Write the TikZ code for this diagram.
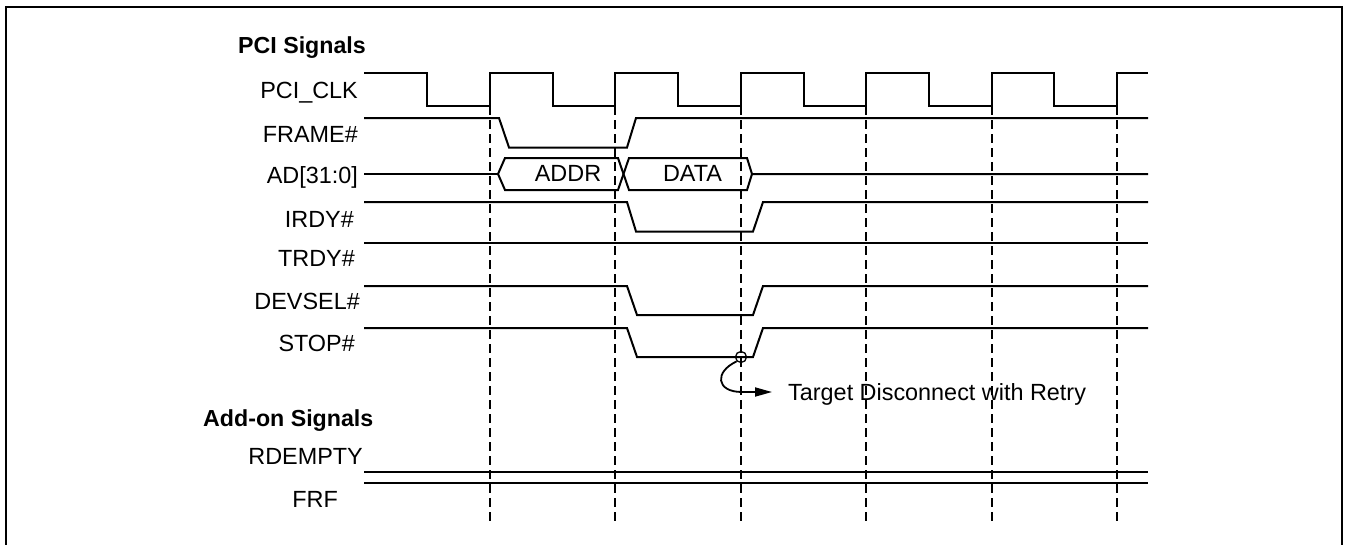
\documentclass[tikz,border=0pt]{standalone}
\usepackage{fontspec}
\setmainfont{Liberation Sans}
\usetikzlibrary{arrows.meta}
\begin{document}
\begin{tikzpicture}[x=1pt,y=-1pt,
  txt/.style={font=\fontsize{23.4}{27}\selectfont, inner sep=0pt},
  lbl/.style={txt, anchor=base east},
  ttl/.style={font=\fontsize{23.2}{27}\selectfont\bfseries, inner sep=0pt, anchor=base west},
  sig/.style={line width=2pt, line join=miter},
  grid/.style={line width=1.8pt, dash pattern=on 9pt off 5pt},
  frm/.style={line width=2.6pt}]
\useasboundingbox (0,0) rectangle (1346,544);
% frame (open at bottom)
\draw[frm] (6,548) -- (6,7) -- (1342,7) -- (1342,548);

% titles and labels
\node[ttl] (tpci) at (238,53) {PCI Signals};
\node[ttl] (tadd) at (203,426) {Add-on Signals};
\node[lbl] (lclk) at (358,98) {PCI\_CLK};
\node[lbl] (lframe) at (358,142) {FRAME\#};
\node[lbl] (lad) at (358,183) {AD[31:0]};
\node[lbl] (lirdy) at (354,227) {IRDY\#};
\node[lbl] (ltrdy) at (355,266) {TRDY\#};
\node[lbl] (ldev) at (360,309) {DEVSEL\#};
\node[lbl] (lstop) at (355,351) {STOP\#};
\node[lbl] (lrde) at (363,464) {RDEMPTY};
\node[lbl] (lfrf) at (338,507) {FRF};

% dashed clock-edge lines
\foreach \x in {490,615,741,866,992,1117}
  \draw[grid] (\x,106) -- (\x,523);

% PCI_CLK
\draw[sig] (364,73) -- (427,73) -- (427,106) -- (490,106) -- (490,73)
  -- (553,73) -- (553,106) -- (615,106) -- (615,73)
  -- (678,73) -- (678,106) -- (741,106) -- (741,73)
  -- (804,73) -- (804,106) -- (866,106) -- (866,73)
  -- (929,73) -- (929,106) -- (992,106) -- (992,73)
  -- (1054,73) -- (1054,106) -- (1117,106) -- (1117,73) -- (1148,73);

% FRAME#
\draw[sig] (364,118) -- (499,118) -- (509,147.5) -- (627,147.5) -- (636,118) -- (1148,118);

% AD[31:0]
\draw[sig] (364,174) -- (498,174);
\draw[sig] (498,174) -- (505,158) -- (618,158) -- (629,190) -- (747,190) -- (752,174) -- (1148,174);
\draw[sig] (498,174) -- (505,190) -- (618,190) -- (629,158) -- (747,158) -- (752,174);
\node[txt, anchor=base] (addr) at (568,181.5) {ADDR};
\node[txt, anchor=base] (data) at (692.5,181.5) {DATA};

% IRDY#
\draw[sig] (364,202) -- (627,202) -- (636,231.5) -- (753,231.5) -- (763,202) -- (1148,202);
% TRDY#
\draw[sig] (364,243) -- (1148,243);
% DEVSEL#
\draw[sig] (364,286) -- (627,286) -- (637,315) -- (753,315) -- (763,286) -- (1148,286);
% STOP#
\draw[sig] (364,328) -- (627,328) -- (637,357) -- (753,357) -- (763,328) -- (1148,328);
% RDEMPTY, FRF
\draw[sig] (364,471.5) -- (1148,471.5);
\draw[sig] (364,483) -- (1148,483);

% annotation
\node[draw, circle, line width=1.3pt, minimum size=11pt, inner sep=0pt] (mark) at (741,357) {};
\node[txt, anchor=base west] (note) at (788,400) {Target Disconnect with Retry};
\coordinate (tip) at (772,392);
\draw[line width=1.8pt, -{Triangle[length=17pt,width=9pt]}]
  (mark.225) .. controls (714,372) and (716,392) .. (742,392) -- (tip);
\end{tikzpicture}
\end{document}
